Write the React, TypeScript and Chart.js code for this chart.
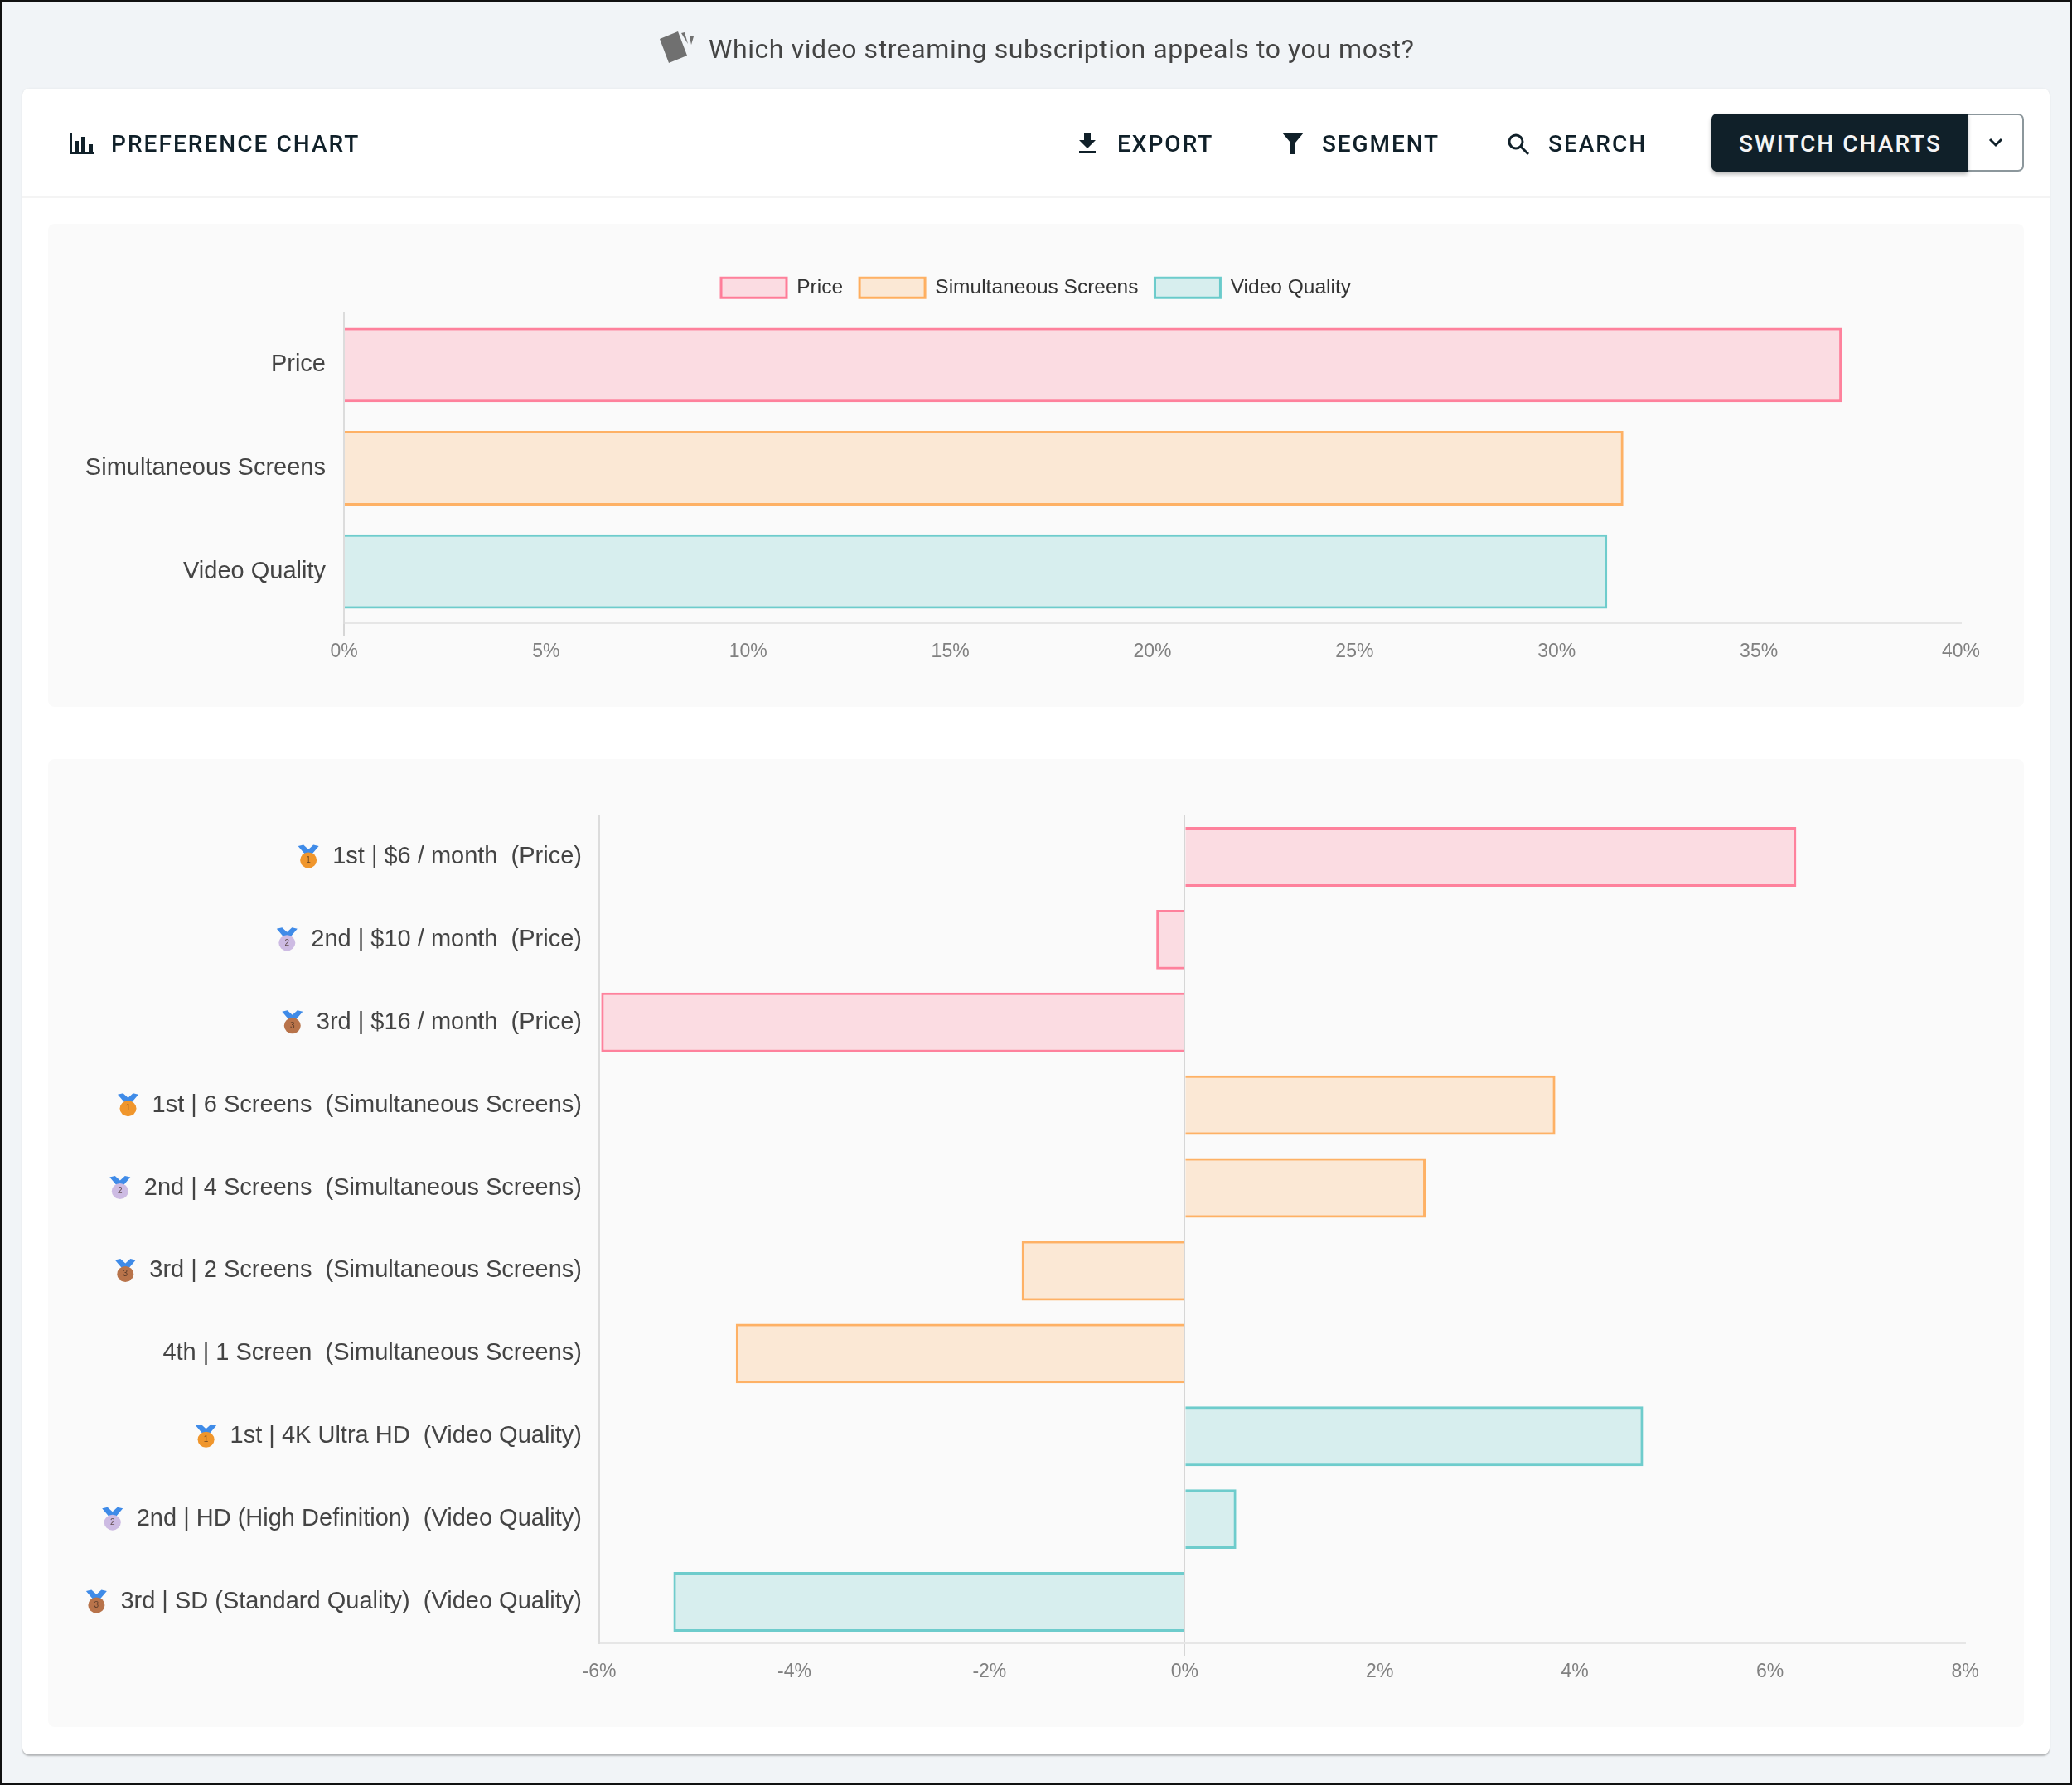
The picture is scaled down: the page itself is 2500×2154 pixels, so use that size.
import React, { useEffect, useRef } from "react";
import { Chart, registerables } from "chart.js";

Chart.register(...registerables);

const attributes = ["Price", "Simultaneous Screens", "Video Quality"];
const attributeValues = [37.05, 31.65, 31.25];
const levelLabels = [
  "1st | $6 / month  (Price)",
  "2nd | $10 / month  (Price)",
  "3rd | $16 / month  (Price)",
  "1st | 6 Screens  (Simultaneous Screens)",
  "2nd | 4 Screens  (Simultaneous Screens)",
  "3rd | 2 Screens  (Simultaneous Screens)",
  "4th | 1 Screen  (Simultaneous Screens)",
  "1st | 4K Ultra HD  (Video Quality)",
  "2nd | HD (High Definition)  (Video Quality)",
  "3rd | SD (Standard Quality)  (Video Quality)",
];
const levelValues = [6.27, -0.29, -5.98, 3.8, 2.47, -1.67, -4.6, 4.7, 0.53, -5.24];
const levelGroups = [0, 0, 0, 1, 1, 1, 1, 2, 2, 2];
const levelMedals = [1, 2, 3, 1, 2, 3, 0, 1, 2, 3];

const fills = ["rgba(255,99,132,0.2)", "rgba(255,159,64,0.2)", "rgba(75,192,192,0.2)"];
const strokes = ["rgba(255,99,132,0.8)", "rgba(255,159,64,0.8)", "rgba(75,192,192,0.8)"];
const medalColors = ["", "#f0962c", "#cdbbe3", "#b8734a"];
const FONT = "Roboto";
const CHART_FONT = "'Liberation Sans'";

const medalPlugin = {
  id: "medals",
  afterDraw(chart: any, _a: any, opts: any) {
    if (!opts || !opts.ranks) return;
    const { ctx, scales } = chart;
    const y = scales.y;
    ctx.save();
    y.ticks.forEach((t: any, i: number) => {
      const rank = opts.ranks[i];
      if (!rank) return;
      ctx.font = `${opts.size}px ${CHART_FONT}`;
      const cy = y.getPixelForTick(i);
      const right = y.right - opts.padding;
      const w = ctx.measureText(t.label).width;
      const cx = right - w - 29;
      ctx.fillStyle = "#3f8be8";
      ctx.beginPath();
      ctx.moveTo(cx - 12.5, cy - 13);
      ctx.lineTo(cx - 6, cy - 14.5);
      ctx.lineTo(cx, cy - 9);
      ctx.lineTo(cx + 6, cy - 14.5);
      ctx.lineTo(cx + 12.5, cy - 13);
      ctx.lineTo(cx + 4, cy - 3);
      ctx.lineTo(cx - 4, cy - 3);
      ctx.closePath();
      ctx.fill();
      ctx.fillStyle = medalColors[rank];
      ctx.beginPath();
      ctx.ellipse(cx, cy + 4, 10, 9.5, 0, 0, Math.PI * 2);
      ctx.fill();
      ctx.fillStyle = "rgba(60,40,30,0.75)";
      ctx.font = `10px ${CHART_FONT}`;
      ctx.textAlign = "center";
      ctx.textBaseline = "middle";
      ctx.fillText(String(rank), cx, cy + 4);
    });
    ctx.restore();
  },
};

const legendSizePlugin = {
  id: "legendSize",
  beforeInit(chart: any, _a: any, opts: any) {
    if (!opts || !opts.height || !chart.legend) return;
    const fit = chart.legend.fit;
    chart.legend.fit = function () {
      fit.call(this);
      this.height = opts.height;
    };
  },
  beforeDraw(chart: any, _a: any, opts: any) {
    if (opts && opts.height && chart.legend) chart.legend.right = chart.width;
  },
};

function barChart(
  canvas: HTMLCanvasElement,
  labels: string[],
  values: number[],
  groups: number[],
  cfg: any
) {
  const zeroLine = (ctx: any) => (ctx.tick && ctx.tick.value === 0 ? "#d6d6d6" : "rgba(0,0,0,0)");
  return new Chart(canvas, {
    type: "bar",
    data: {
      labels,
      datasets: [
        {
          data: values,
          backgroundColor: groups.map((g) => fills[g]),
          borderColor: groups.map((g) => strokes[g]),
          borderWidth: 3,
          barPercentage: cfg.barPct,
          categoryPercentage: 1,
        },
      ],
    },
    plugins: [medalPlugin, legendSizePlugin],
    options: {
      indexAxis: "y",
      responsive: false,
      animation: false,
      layout: { padding: cfg.padding },
      plugins: {
        tooltip: { enabled: false },
        legend: {
          display: cfg.legend,
          position: "top",
          labels: {
            boxWidth: 79,
            boxHeight: 24,
            padding: 20,
            color: "#333",
            font: { family: CHART_FONT, size: 24.5 },
            generateLabels: () =>
              attributes.map((a, i) => ({
                text: a,
                fillStyle: fills[i],
                strokeStyle: strokes[i],
                lineWidth: 3,
                fontColor: "#333",
                hidden: false,
                index: i,
              })),
          },
        },
        medals: { ranks: cfg.ranks, size: 29, padding: cfg.labelPad },
        legendSize: { height: cfg.legendHeight },
      } as any,
      scales: {
        x: {
          min: cfg.min,
          max: cfg.max,
          afterFit: (s: any) => {
            s.height = cfg.xHeight;
          },
          ticks: {
            stepSize: cfg.step,
            color: "#808080",
            padding: 6,
            maxRotation: 0,
            font: { family: CHART_FONT, size: 23 },
            callback: (v: any) => `${v}%`,
          },
          grid: { color: zeroLine, tickColor: zeroLine, tickLength: 15, lineWidth: 2 },
          border: { color: "#e6e6e6", width: 2 },
        },
        y: {
          afterFit: (s: any) => {
            s.width = cfg.yWidth;
          },
          ticks: {
            color: "#444",
            padding: cfg.labelPad,
            font: { family: CHART_FONT, size: 29 },
          },
          grid: { display: false, drawTicks: false },
          border: { color: "#dcdcdc", width: 2 },
        },
      },
    } as any,
  });
}

const Txt = ({ x, y, size, spacing, weight, color, children }: any) => (
  <div
    style={{
      position: "absolute",
      left: x,
      top: y - 30,
      height: 60,
      lineHeight: "60px",
      fontFamily: FONT,
      fontSize: size,
      letterSpacing: spacing,
      fontWeight: weight,
      color,
      whiteSpace: "nowrap",
    }}
  >
    {children}
  </div>
);

const INK = "#102029";

export default function App() {
  const top = useRef<HTMLCanvasElement>(null);
  const bottom = useRef<HTMLCanvasElement>(null);

  useEffect(() => {
    document.body.style.margin = "0";
    const a = barChart(top.current!, attributes, attributeValues, [0, 1, 2], {
      padding: { top: 45, right: 76, bottom: 0, left: 0 },
      legend: true,
      legendHeight: 63,
      min: 0,
      max: 40,
      step: 5,
      xHeight: 101,
      yWidth: 357,
      labelPad: 22,
      barPct: 0.72,
    });
    const b = barChart(bottom.current!, levelLabels, levelValues, levelGroups, {
      padding: { top: 68, right: 71, bottom: 0, left: 0 },
      legend: false,
      min: -6,
      max: 8,
      step: 2,
      xHeight: 101,
      yWidth: 665,
      labelPad: 21,
      barPct: 0.72,
      ranks: levelMedals,
    });
    return () => {
      a.destroy();
      b.destroy();
    };
  }, []);

  const panel = (t: number, h: number): React.CSSProperties => ({
    position: "absolute",
    left: 58,
    top: t,
    width: 2384,
    height: h,
    background: "#fafafa",
    borderRadius: 8,
  });

  return (
    <div
      style={{
        position: "absolute",
        left: 0,
        top: 0,
        width: 2500,
        height: 2154,
        boxSizing: "border-box",
        border: "3px solid #111",
        background: "#f1f4f7",
        overflow: "hidden",
      }}
    >
      <div style={{ position: "absolute", left: -3, top: -3, width: 2500, height: 2154, filter: "blur(0.5px)" }}>
        <svg style={{ position: "absolute", left: 785, top: 30 }} width="60" height="55" viewBox="0 0 60 55" fill="#707070">
          <path d="M11 17 L33 8 L44 37 L22 46 Z" />
          <path d="M37 10 L41 9 L45 23 Z" />
          <path d="M47 14 L52 14 L49 24 Z" />
        </svg>
        <Txt x={855} y={59} size={32} spacing={0.58} color="#444">
          Which video streaming subscription appeals to you most?
        </Txt>

        <div
          style={{
            position: "absolute",
            left: 27,
            top: 107,
            width: 2446,
            height: 2010,
            background: "#fff",
            borderRadius: 8,
            boxShadow: "0 2px 2px rgba(0,0,0,0.25), 0 0 3px rgba(0,0,0,0.06)",
          }}
        />
        <div style={{ position: "absolute", left: 27, top: 237, width: 2446, height: 2, background: "#f4f4f4" }} />

        <svg style={{ position: "absolute", left: 82, top: 158 }} width="34" height="30" viewBox="0 0 34 30" fill={INK}>
          <rect x="2" y="2" width="3" height="26" />
          <rect x="2" y="25" width="30" height="3" />
          <rect x="9" y="12" width="4" height="14" />
          <rect x="16" y="7" width="5" height="19" />
          <rect x="25" y="16" width="5" height="10" />
        </svg>
        <Txt x={134} y={174} size={28} spacing={2.05} weight={500} color={INK}>PREFERENCE CHART</Txt>

        <svg style={{ position: "absolute", left: 1300, top: 159 }} width="24" height="28" viewBox="0 0 24 28" fill={INK}>
          <path d="M8 1 H16 V10 H22 L12 20 L2 10 H8 Z" />
          <rect x="2" y="23" width="20" height="3" />
        </svg>
        <Txt x={1348} y={174} size={28} spacing={2} weight={500} color={INK}>EXPORT</Txt>

        <svg style={{ position: "absolute", left: 1546, top: 159 }} width="28" height="28" viewBox="0 0 28 28" fill={INK}>
          <path d="M1 1 H27 L17 13 V27 H11 V13 Z" />
        </svg>
        <Txt x={1595} y={174} size={28} spacing={1.9} weight={500} color={INK}>SEGMENT</Txt>

        <svg style={{ position: "absolute", left: 1818, top: 160 }} width="28" height="28" viewBox="0 0 28 28" fill="none" stroke={INK} strokeWidth="3">
          <circle cx="11" cy="11" r="8" />
          <path d="M17 17 L26 26" />
        </svg>
        <Txt x={1868} y={174} size={28} spacing={2} weight={500} color={INK}>SEARCH</Txt>

        <div
          style={{
            position: "absolute",
            left: 2065,
            top: 137,
            width: 377,
            height: 70,
            boxSizing: "border-box",
            borderRadius: 7,
            border: "2px solid #8c979c",
            background: "#fff",
          }}
        />
        <div
          style={{
            position: "absolute",
            left: 2065,
            top: 137,
            width: 309,
            height: 70,
            borderRadius: "7px 0 0 7px",
            background: INK,
            boxShadow: "0 3px 5px rgba(0,0,0,0.3)",
          }}
        />
        <Txt x={2098} y={174} size={28} spacing={2.05} weight={500} color="#f5f5f5">SWITCH CHARTS</Txt>
        <svg style={{ position: "absolute", left: 2398, top: 164 }} width="20" height="16" viewBox="0 0 20 16" fill="none" stroke={INK} strokeWidth="3">
          <path d="M3 4 L10 11 L17 4" />
        </svg>

        <div style={panel(270, 583)}>
          <canvas ref={top} width={2384} height={583} style={{ display: "block" }} />
        </div>
        <div style={panel(916, 1168)}>
          <canvas ref={bottom} width={2384} height={1168} style={{ display: "block" }} />
        </div>
      </div>
    </div>
  );
}
